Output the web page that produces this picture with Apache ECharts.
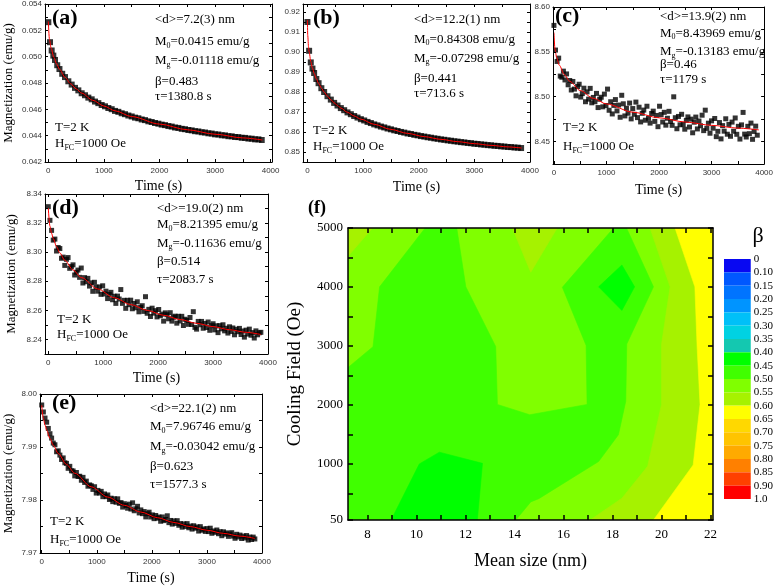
<!DOCTYPE html>
<html><head><meta charset="utf-8">
<script src="https://cdn.jsdelivr.net/npm/echarts@6.0.0/dist/echarts.min.js"></script>
<style>html,body{margin:0;padding:0;background:#fff}#c{width:776px;height:586px}</style>
</head><body><div id="c"></div>
<script>
// ---------------- DATA ----------------
const timeAB = [0,30,60,90,120,160,200,250,300,360,420,480,540,600,660,720,780,840,900,960,1020,1080,1140,1200,1260,1320,1380,1440,1500,1560,1620,1680,1740,1800,1860,1920,1980,2040,2100,2160,2220,2280,2340,2400,2460,2520,2580,2640,2700,2760,2820,2880,2940,3000,3060,3120,3180,3240,3300,3360,3420,3480,3540,3600,3660,3720,3780,3840];
const magA = [0.05262,0.05110,0.05047,0.05008,0.04975,0.04935,0.04906,0.04870,0.04845,
0.04813,0.04788,0.04763,0.04744,0.04722,0.04707,0.04689,0.04676,0.04659,0.04647,
0.04633,0.04623,0.04610,0.04601,0.04588,0.04581,0.04570,0.04563,0.04553,0.04546,
0.04537,0.04532,0.04523,0.04518,0.04509,0.04504,0.04496,0.04491,0.04484,0.04480,
0.04473,0.04469,0.04462,0.04459,0.04452,0.04449,0.04443,0.04440,0.04434,0.04432,
0.04426,0.04424,0.04418,0.04416,0.04410,0.04409,0.04403,0.04402,0.04396,0.04395,
0.04390,0.04389,0.04384,0.04383,0.04378,0.04377,0.04372,0.04372,0.04367];
const magB = [0.91500,0.90060,0.89480,0.89170,0.88950,0.88650,0.88440,0.88190,0.88000,
0.87790,0.87620,0.87455,0.87325,0.87195,0.87090,0.86980,0.86890,0.86798,0.86722,
0.86640,0.86577,0.86505,0.86447,0.86380,0.86331,0.86273,0.86229,0.86175,0.86133,
0.86084,0.86049,0.86003,0.85970,0.85927,0.85899,0.85860,0.85833,0.85796,0.85771,
0.85737,0.85715,0.85682,0.85661,0.85629,0.85611,0.85581,0.85564,0.85536,0.85520,
0.85493,0.85479,0.85453,0.85439,0.85414,0.85402,0.85379,0.85367,0.85344,0.85334,
0.85312,0.85303,0.85282,0.85273,0.85252,0.85245,0.85225,0.85218,0.85198];
const timeCDE = [0,30,60,90,120,150,180,210,240,270,300,330,360,390,420,450,480,510,540,570,600,630,660,690,720,750,780,810,840,870,900,930,960,990,1020,1050,1080,1110,1140,1170,1200,1230,1260,1290,1320,1350,1380,1410,1440,1470,1500,1530,1560,1590,1620,1650,1680,1710,1740,1770,1800,1830,1860,1890,1920,1950,1980,2010,2040,2070,2100,2130,2160,2190,2220,2250,2280,2310,2340,2370,2400,2430,2460,2490,2520,2550,2580,2610,2640,2670,2700,2730,2760,2790,2820,2850,2880,2910,2940,2970,3000,3030,3060,3090,3120,3150,3180,3210,3240,3270,3300,3330,3360,3390,3420,3450,3480,3510,3540,3570,3600,3630,3660,3690,3720,3750,3780,3810,3840,3870];
const magC = [8.5795,8.5520,8.5393,8.5430,8.5230,8.5217,8.5285,8.5187,8.5254,8.5133,
8.5181,8.5075,8.5170,8.5085,8.5010,8.5114,8.5139,8.4996,8.5035,8.5095,
8.4944,8.5054,8.4973,8.5093,8.4932,8.4992,8.4944,8.5037,8.4879,8.4972,
8.4994,8.4887,8.5029,8.4902,8.5085,8.4849,8.4944,8.4808,8.4903,8.4968,
8.4842,8.4907,8.4771,8.5016,8.4921,8.4786,8.4871,8.4816,8.4929,8.4753,
8.4868,8.4804,8.4940,8.4767,8.4883,8.4719,8.4815,8.4851,8.4738,8.4894,
8.4760,8.4706,8.4813,8.4839,8.4725,8.4791,8.4666,8.4894,8.4801,8.4718,
8.4826,8.4683,8.4760,8.4837,8.4724,8.4681,8.4999,8.4766,8.4643,8.4780,
8.4687,8.4804,8.4691,8.4638,8.4737,8.4775,8.4662,8.4750,8.4598,8.4716,
8.4773,8.4641,8.4729,8.4676,8.4794,8.4622,8.4850,8.4647,8.4705,8.4593,
8.4731,8.4649,8.4757,8.4555,8.4614,8.4712,8.4530,8.4678,8.4616,8.4754,
8.4582,8.4691,8.4559,8.4717,8.4615,8.4763,8.4581,8.4670,8.4528,8.4686,
8.4825,8.4583,8.4551,8.4670,8.4588,8.4706,8.4525,8.4613,8.4672,8.4571];
const magD = [8.3313,8.3219,8.3150,8.3083,8.3090,8.3008,8.3032,8.3025,8.2958,8.2966,
8.2909,8.2951,8.2963,8.2889,8.2901,8.2913,8.2843,8.2862,8.2877,8.2827,
8.2891,8.2788,8.2825,8.2797,8.2820,8.2767,8.2789,8.2731,8.2793,8.2760,
8.2732,8.2761,8.2710,8.2769,8.2713,8.2732,8.2681,8.2710,8.2724,8.2673,
8.2697,8.2648,8.2698,8.2678,8.2743,8.2648,8.2669,8.2614,8.2669,8.2639,
8.2670,8.2611,8.2647,8.2618,8.2659,8.2590,8.2621,8.2632,8.2593,8.2694,
8.2580,8.2607,8.2558,8.2615,8.2581,8.2598,8.2555,8.2606,8.2563,8.2574,
8.2526,8.2583,8.2570,8.2542,8.2584,8.2526,8.2553,8.2560,8.2512,8.2559,
8.2527,8.2559,8.2496,8.2539,8.2531,8.2504,8.2551,8.2503,8.2591,8.2483,
8.2471,8.2524,8.2501,8.2524,8.2477,8.2510,8.2482,8.2520,8.2463,8.2495,
8.2508,8.2466,8.2494,8.2447,8.2495,8.2473,8.2501,8.2459,8.2477,8.2444,
8.2487,8.2455,8.2479,8.2432,8.2470,8.2453,8.2476,8.2434,8.2458,8.2416,
8.2464,8.2437,8.2471,8.2429,8.2447,8.2410,8.2459,8.2432,8.2446,8.2449];
const magE = [7.99793,7.99661,7.99546,7.99468,7.99350,7.99251,7.99168,7.99074,7.99042,7.98910,
7.98928,7.98847,7.98765,7.98794,7.98702,7.98691,7.98598,7.98635,7.98551,7.98548,
7.98455,7.98519,7.98444,7.98448,7.98373,7.98427,7.98331,7.98356,7.98260,7.98285,
7.98269,7.98200,7.98250,7.98131,7.98181,7.98132,7.98163,7.98063,7.98114,7.98064,
7.98095,7.98010,7.98034,7.97969,7.98023,7.97958,7.98022,7.97937,7.97951,7.97866,
7.97930,7.97897,7.97845,7.97922,7.97829,7.97947,7.97797,7.97834,7.97881,7.97756,
7.97813,7.97742,7.97782,7.97681,7.97741,7.97770,7.97679,7.97719,7.97648,7.97708,
7.97657,7.97678,7.97599,7.97680,7.97611,7.97632,7.97702,7.97573,7.97614,7.97545,
7.97606,7.97558,7.97610,7.97523,7.97555,7.97487,7.97549,7.97501,7.97554,7.97476,
7.97508,7.97451,7.97514,7.97468,7.97491,7.97414,7.97497,7.97430,7.97454,7.97407,
7.97460,7.97404,7.97468,7.97372,7.97416,7.97390,7.97434,7.97364,7.97402,7.97326,
7.97400,7.97355,7.97380,7.97314,7.97359,7.97384,7.97319,7.97278,7.97353,7.97303,
7.97338,7.97273,7.97319,7.97284,7.97329,7.97244,7.97300,7.97255,7.97300,7.97265];

// fitted curves (red)
const fitTimeA = [0,20,50,100,150,200,300,400,500,600,800,1000,1200,1500,2000,2500,3000,3500,3850];
const fitMagA = [0.05268,0.05132,0.05064,0.04994,0.04944,0.04905,0.04843,0.04795,0.04756,0.04723,0.04669,0.04625,0.04589,0.04545,0.04488,0.04445,0.04411,0.04383,0.04367];
const fitTimeB = [0,5,20,30,60,90,120,160,200,250,300,360,420,480,540,600,720,840,960,1200,1500,1800,2100,2400,2700,3000,3300,3600,3850];
const fitMagB = [0.91606,0.90832,0.90243,0.90008,0.89525,0.89193,0.88936,0.88659,0.88433,0.88196,0.87996,0.87791,0.87615,0.87460,0.87322,0.87198,0.86982,0.86800,0.86643,0.86383,0.86130,0.85930,0.85768,0.85632,0.85517,0.85417,0.85331,0.85255,0.85199];
const fitTimeC = [0,20,50,100,200,300,500,750,1000,1500,2000,2500,3000,3500,3900];
const fitMagC = [8.5715,8.5528,8.5441,8.5353,8.5244,8.5171,8.5069,8.4982,8.4919,8.4828,8.4765,8.4718,8.4681,8.4650,8.4630];
const fitTimeD = [0,30,60,90,150,210,300,450,600,900,1200,1500,1800,2100,2400,2700,3000,3300,3600,3870];
const fitMagD = [8.3303,8.3179,8.3130,8.3093,8.3038,8.2995,8.2944,8.2878,8.2826,8.2747,8.2687,8.2640,8.2600,8.2566,8.2537,8.2511,8.2488,8.2467,8.2449,8.2434];
const fitTimeE = [0,30,60,90,150,210,300,450,600,900,1200,1500,1800,2100,2400,2700,3000,3300,3600,3870];
const fitMagE = [7.99788,7.99541,7.99416,7.99318,7.99161,7.99034,7.98878,7.98671,7.98505,7.98249,7.98055,7.97900,7.97773,7.97667,7.97576,7.97498,7.97430,7.97370,7.97318,7.97275];

// tick labels / marks
const timeTickLabels = [0,1000,2000,3000,4000];
const timeTickMarks = [0,500,1000,1500,2000,2500,3000,3500,4000];
const magTickLabelsA = [0.042,0.044,0.046,0.048,0.050,0.052,0.054];
const magTickMarksA = [0.042,0.043,0.044,0.045,0.046,0.047,0.048,0.049,0.050,0.051,0.052,0.053,0.054];
const magTickLabelsB = [0.85,0.86,0.87,0.88,0.89,0.90,0.91,0.92];
const magTickMarksB = [0.85,0.855,0.86,0.865,0.87,0.875,0.88,0.885,0.89,0.895,0.90,0.905,0.91,0.915,0.92];
const magTickLabelsC = [8.45,8.50,8.55,8.60];
const magTickMarksC = [8.425,8.45,8.475,8.50,8.525,8.55,8.575,8.60];
const magTickLabelsD = [8.24,8.26,8.28,8.30,8.32,8.34];
const magTickMarksD = [8.23,8.24,8.25,8.26,8.27,8.28,8.29,8.30,8.31,8.32,8.33,8.34];
const magTickLabelsE = [7.97,7.98,7.99,8.00];
const magTickMarksE = [7.97,7.975,7.98,7.985,7.99,7.995,8.00];

// annotations
const annotA = ['<d>=7.2(3) nm', ['M','0','=0.0415 emu/g'], ['M','g','=-0.01118 emu/g'], 'β=0.483', 'τ=1380.8 s'];
const annotB = ['<d>=12.2(1) nm', ['M','0','=0.84308 emu/g'], ['M','g','=-0.07298 emu/g'], 'β=0.441', 'τ=713.6 s'];
const annotC = ['<d>=13.9(2) nm', ['M','0','=8.43969 emu/g'], ['M','g','=-0.13183 emu/g'], 'β=0.46', 'τ=1179 s'];
const annotD = ['<d>=19.0(2) nm', ['M','0','=8.21395 emu/g'], ['M','g','=-0.11636 emu/g'], 'β=0.514', 'τ=2083.7 s'];
const annotE = ['<d>=22.1(2) nm', ['M','0','=7.96746 emu/g'], ['M','g','=-0.03042 emu/g'], 'β=0.623', 'τ=1577.3 s'];
const condLines = ['T=2 K', ['H','FC','=1000 Oe']];
const panelTags = ['(a)','(b)','(c)','(d)','(e)','(f)'];

// contour map (f): zones of β bands, vertices in [mean size nm, cooling field Oe]
const sizeTickLabels = [8,10,12,14,16,18,20,22];
const sizeTickMarks = [8,9,10,11,12,13,14,15,16,17,18,19,20,21,22];
const fieldTickLabels = [50,1000,2000,3000,4000,5000];
const fieldTickMarks = [500,1000,1500,2000,2500,3000,3500,4000,4500];
const zoneBase050 = [[7.2,50],[22.1,50],[22.1,5000],[7.2,5000]];
const zoneTopLeft055 = [[7.2,4520],[7.2,5000],[8.2,5000]];
const zoneTopMid055 = [[13.91,5000],[14.66,4250],[15.74,5000]];
const zoneRight055 = [[17.09,50],[18.38,418],[19.43,960],[20.0,2009],[20.0,3034],[20.35,4002],[19.53,5000],[22.1,5000],[22.1,50]];
const zoneRight060 = [[19.67,50],[21.29,983],[21.57,2009],[21.45,3000],[21.36,4002],[20.55,5000],[22.1,5000],[22.1,50]];
const zoneMain045 = [[7.2,50],[7.2,2634],[8.22,2988],[8.49,4002],[10.35,5000],[11.64,5000],[12.01,4002],[13.23,2990],[13.3,2009],[14.62,1834],[16.96,2009],[16.92,3010],[15.95,3995],[18.04,5000],[18.57,5000],[19.67,4002],[18.58,3034],[18.54,2065],[18.24,1496],[17.43,1041],[14.99,412],[14.66,357],[14.05,50]];
const zoneLow040 = [[8.96,50],[10.11,1000],[10.93,1200],[12.69,1010],[12.48,50]];
const zoneDiamond040 = [[17.43,4002],[18.38,4373],[18.9,4002],[18.38,3603]];
const betaLabels = ['0','0.10','0.15','0.20','0.25','0.30','0.35','0.40','0.45','0.50','0.55','0.60','0.65','0.70','0.75','0.80','0.85','0.90','1.0'];
const bandColors = ['#0808f2','#0058ff','#0074ff','#0094ff','#00c0f8','#00d2e2','#14c8b0','#00ff00','#40ff00','#80ff00','#a6f200','#ffff00','#ffd800','#ffc400','#ffaa00','#ff8000','#ff4000','#ff0000'];

// ---------------- BUILD ----------------
const SANS = "'Liberation Sans', Arial, sans-serif";
const SERIF = "'Liberation Serif', 'Times New Roman', serif";
const plain = (v) => String(Math.round(v));

const zones = [
  {pts: zoneBase050, band: 9},
  {pts: zoneTopLeft055, band: 10},
  {pts: zoneTopMid055, band: 10},
  {pts: zoneRight055, band: 10},
  {pts: zoneRight060, band: 11},
  {pts: zoneMain045, band: 8},
  {pts: zoneLow040, band: 7},
  {pts: zoneDiamond040, band: 7}
];

const panels = [
  {grid:{left:45,top:3,width:227,height:159}, xMin:-60, xMax:4025, yMin:0.042, yMax:0.054, dec:3, xGap:17, yGap:30, yName:true, sym:6,
   t:timeAB, m:magA, tf:fitTimeA, mf:fitMagA, yl:magTickLabelsA, ym:magTickMarksA, ann:annotA, annX:155, annY:[20,41.7,61,81.7,96.7], tag:[52,18], cond:[55,128,144]},
  {grid:{left:303,top:4,width:227,height:158}, xMin:-80, xMax:4000, yMin:0.845, yMax:0.924, dec:2, xGap:18, yName:false, sym:6,
   t:timeAB, m:magB, tf:fitTimeB, mf:fitMagB, yl:magTickLabelsB, ym:magTickMarksB, ann:annotB, annX:414, annY:[20,39.3,58.3,78.3,93.3], tag:[313,18], cond:[313,131,147]},
  {grid:{left:553,top:7,width:217,height:157}, xMin:-18, xMax:4000, yMin:8.425, yMax:8.60, dec:2, xGap:19, yName:false, sym:5,
   t:timeCDE, m:magC, tf:fitTimeC, mf:fitMagC, yl:magTickLabelsC, ym:magTickMarksC, ann:annotC, annX:660, annY:[16.7,33.3,51.7,65,80], tag:[555,16], cond:[563,128,147]},
  {grid:{left:45,top:194,width:223,height:160}, xMin:-60, xMax:4000, yMin:8.23, yMax:8.34, dec:2, xGap:17, yGap:27, yName:true, sym:5,
   t:timeCDE, m:magD, tf:fitTimeD, mf:fitMagD, yl:magTickLabelsD, ym:magTickMarksD, ann:annotD, annX:157, annY:[208.3,225,243.3,261.7,280], tag:[52,208], cond:[57,320,335]},
  {grid:{left:40,top:394,width:222,height:159}, xMin:-31, xMax:4000, yMin:7.97, yMax:8.00, dec:2, xGap:18, yGap:25, yName:true, sym:5,
   t:timeCDE, m:magE, tf:fitTimeE, mf:fitMagE, yl:magTickLabelsE, ym:magTickMarksE, ann:annotE, annX:150, annY:[408.3,426.7,446.7,466.7,485], tag:[52,403], cond:[50,522,540]}
];

const grids = [], xAxes = [], yAxes = [], series = [], graphics = [];
const black = {color:'#000', width:1};

panels.forEach((p, i) => {
  grids.push(Object.assign({containLabel:false}, p.grid));
  const xb = {type:'value', gridIndex:i, min:p.xMin, max:p.xMax, z:10, splitLine:{show:false}};
  xAxes.push(Object.assign({}, xb, {position:'bottom',
    axisLine:{onZero:false, lineStyle:black},
    axisTick:{inside:true, length:3, customValues:timeTickMarks, lineStyle:black},
    axisLabel:{customValues:timeTickLabels, formatter:plain, fontSize:8, fontFamily:SANS, color:'#333', margin:5},
    name:'Time (s)', nameLocation:'middle', nameGap:p.xGap,
    nameTextStyle:{fontFamily:SERIF, fontSize:14, color:'#000', verticalAlign:'top'}}));
  xAxes.push(Object.assign({}, xb, {position:'top',
    axisLine:{onZero:false, lineStyle:black},
    axisTick:{inside:true, length:3, customValues:timeTickMarks, lineStyle:black},
    axisLabel:{show:false}}));
  const yb = {type:'value', gridIndex:i, min:p.yMin, max:p.yMax, z:10, splitLine:{show:false}};
  const yLeft = Object.assign({}, yb, {position:'left',
    axisLine:{onZero:false, lineStyle:black},
    axisTick:{inside:true, length:3, customValues:p.ym, lineStyle:black},
    axisLabel:{customValues:p.yl, formatter:(v)=>Number(v).toFixed(p.dec), fontSize:8, fontFamily:SANS, color:'#333', margin:3}});
  if (p.yName) Object.assign(yLeft, {name:'Magnetization (emu/g)', nameLocation:'middle', nameGap:p.yGap,
    nameTextStyle:{fontFamily:SERIF, fontSize:13, color:'#000'}});
  yAxes.push(yLeft);
  yAxes.push(Object.assign({}, yb, {position:'right',
    axisLine:{onZero:false, lineStyle:black},
    axisTick:{inside:true, length:3, customValues:p.ym, lineStyle:black},
    axisLabel:{show:false}}));

  series.push({type:'scatter', xAxisIndex:2*i, yAxisIndex:2*i, data:p.t.map((t,k)=>[t,p.m[k]]),
    symbol:'rect', symbolSize:p.sym, itemStyle:{color:'#000'}, silent:true, z:2});
  series.push({type:'line', xAxisIndex:2*i, yAxisIndex:2*i, data:p.tf.map((t,k)=>[t,p.mf[k]]),
    showSymbol:false, smooth:0.3, smoothMonotone:'x', lineStyle:{color:'#ff0000', width:1}, silent:true, z:3});
});

// panel f
const gf = panels.length;
grids.push({left:348, top:228, width:365, height:292});
const fx = {type:'value', gridIndex:gf, min:7.2, max:22.1, z:10, splitLine:{show:false}};
const fAxisLine = {color:'#000', width:1.5};
xAxes.push(Object.assign({}, fx, {position:'bottom', axisLine:{onZero:false, lineStyle:fAxisLine},
  axisTick:{inside:true, length:5, customValues:sizeTickMarks, lineStyle:fAxisLine},
  axisLabel:{customValues:sizeTickLabels, formatter:plain, fontFamily:SERIF, fontSize:13, color:'#000', margin:8},
  name:'Mean size (nm)', nameLocation:'middle', nameGap:32,
  nameTextStyle:{fontFamily:SERIF, fontSize:18, color:'#000', verticalAlign:'top'}}));
xAxes.push(Object.assign({}, fx, {position:'top', axisLine:{onZero:false, lineStyle:fAxisLine},
  axisTick:{inside:true, length:5, customValues:sizeTickMarks, lineStyle:fAxisLine}, axisLabel:{show:false}}));
const fy = {type:'value', gridIndex:gf, min:50, max:5000, z:10, splitLine:{show:false}};
yAxes.push(Object.assign({}, fy, {position:'left', axisLine:{onZero:false, lineStyle:fAxisLine},
  axisTick:{inside:true, length:5, customValues:fieldTickLabels.concat(fieldTickMarks), lineStyle:fAxisLine},
  axisLabel:{customValues:fieldTickLabels, formatter:plain, fontFamily:SERIF, fontSize:13, color:'#000', margin:5},
  name:'Cooling Field (Oe)', nameLocation:'middle', nameGap:43,
  nameTextStyle:{fontFamily:SERIF, fontSize:19, color:'#000'}}));
yAxes.push(Object.assign({}, fy, {position:'right', axisLine:{onZero:false, lineStyle:fAxisLine},
  axisTick:{inside:true, length:5, customValues:fieldTickLabels.concat(fieldTickMarks), lineStyle:fAxisLine}, axisLabel:{show:false}}));

series.push({type:'custom', xAxisIndex:2*gf, yAxisIndex:2*gf, silent:true, z:1, clip:true,
  data: zones.map((zn, k) => [zn.pts[0][0], zn.pts[0][1], k]),
  renderItem: (params, api) => {
    const zn = zones[params.dataIndex];
    const c = bandColors[zn.band];
    return {type:'polygon', shape:{points: zn.pts.map(pt => api.coord(pt))},
      style:{fill:c, stroke:c, lineWidth:0.6}};
  }});

// colour bar
const gc = gf + 1;
grids.push({left:724, top:259, width:27, height:240});
xAxes.push({type:'value', gridIndex:gc, min:0, max:1, show:false});
yAxes.push({type:'value', gridIndex:gc, min:0, max:18, inverse:true, position:'right',
  axisLine:{show:false}, axisTick:{show:false}, splitLine:{show:false},
  axisLabel:{customValues:betaLabels.map((s,k)=>k), formatter:(v)=>betaLabels[Math.round(v)],
    fontFamily:SERIF, fontSize:11, color:'#000', margin:3}});
series.push({type:'custom', xAxisIndex:2*gf+2, yAxisIndex:2*gf+2, silent:true,
  data: bandColors.map((c,k)=>[0,k]),
  renderItem: (params, api) => {
    const k = params.dataIndex;
    const p0 = api.coord([0,k]), p1 = api.coord([1,k+1]);
    return {type:'rect', shape:{x:p0[0], y:Math.min(p0[1],p1[1]), width:p1[0]-p0[0], height:Math.abs(p1[1]-p0[1])},
      style:{fill:bandColors[k]}};
  }});

// texts
const rich = {
  n:{fontSize:13, fontFamily:SERIF, fill:'#000', color:'#000'},
  s:{fontSize:8, fontFamily:SERIF, fill:'#000', color:'#000', padding:[8,0,0,0]}
};
function richLine(line){
  if (typeof line === 'string') return '{n|' + line + '}';
  return '{n|' + line[0] + '}{s|' + line[1] + '}{n|' + line[2] + '}';
}
function addText(x, y, line){
  graphics.push({type:'text', x:x, y:y, z:100, silent:true,
    style:{text:richLine(line), rich:rich, fontSize:13, fontFamily:SERIF, fill:'#000', align:'left', verticalAlign:'middle'}});
}
panels.forEach((p, i) => {
  p.ann.forEach((ln, k) => addText(p.annX, p.annY[k], ln));
  addText(p.cond[0], p.cond[1], condLines[0]);
  addText(p.cond[0], p.cond[2], condLines[1]);
  graphics.push({type:'text', x:p.tag[0], y:p.tag[1], z:100, silent:true,
    style:{text:panelTags[i], fontSize:22, fontWeight:'bold', fontFamily:SERIF, fill:'#000', align:'left', verticalAlign:'middle'}});
});
graphics.push({type:'text', x:308, y:208, z:100, silent:true,
  style:{text:panelTags[5], fontSize:18, fontWeight:'bold', fontFamily:SERIF, fill:'#000', align:'left', verticalAlign:'middle'}});
graphics.push({type:'text', x:758, y:236, z:100, silent:true,
  style:{text:'β', fontSize:22, fontFamily:SERIF, fill:'#000', align:'center', verticalAlign:'middle'}});

const chart = echarts.init(document.getElementById('c'), null, {renderer:'canvas'});
chart.setOption({
  animation:false,
  backgroundColor:'#fff',
  grid:grids, xAxis:xAxes, yAxis:yAxes, series:series, graphic:graphics
});
</script></body></html>
